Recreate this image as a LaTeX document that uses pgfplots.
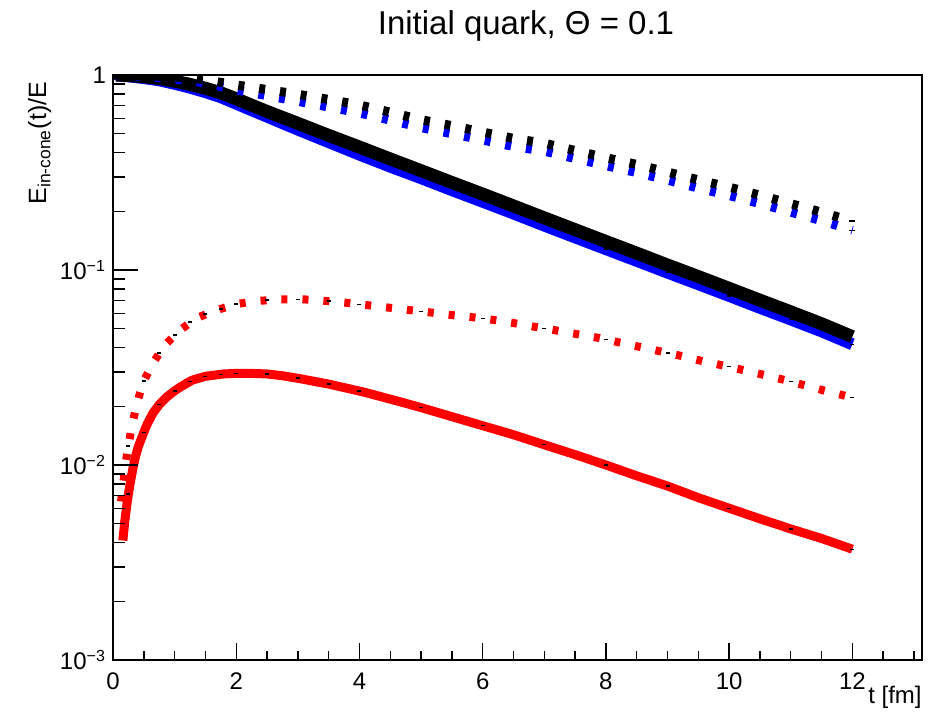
\documentclass[border=0pt]{standalone}
\usepackage{fontspec}
\setmainfont{Liberation Sans}
\usepackage{pgfplots}
\pgfplotsset{compat=1.18}
\usepackage{pgfplotstable}

\pgfplotstableread{
t v
0.05 1.0
0.25 0.995
0.5 0.98
0.75 0.96
1.0 0.93
1.25 0.895
1.5 0.855
1.75 0.81
2.0 0.755
2.25 0.70
2.5 0.65
3.0 0.565
3.5 0.49
4.0 0.427
4.5 0.371
5.0 0.323
5.5 0.281
6.0 0.245
6.5 0.213
7.0 0.185
7.5 0.161
8.0 0.140
8.5 0.122
9.0 0.106
9.5 0.0925
10.0 0.0805
10.5 0.070
11.0 0.061
11.5 0.053
12.0 0.0455
}\blacksolid

\pgfplotstableread{
t v
0.05 0.995
0.25 0.985
0.5 0.965
0.75 0.94
1.0 0.902
1.25 0.862
1.5 0.817
1.75 0.77
2.0 0.713
2.25 0.66
2.5 0.612
3.0 0.525
3.5 0.453
4.0 0.391
4.5 0.339
5.0 0.296
5.5 0.257
6.0 0.224
6.5 0.195
7.0 0.169
7.5 0.147
8.0 0.128
8.5 0.1115
9.0 0.097
9.5 0.0846
10.0 0.0737
10.5 0.064
11.0 0.0558
11.5 0.0485
12.0 0.0416
}\bluesolid

\pgfplotstableread{
t v
0.0 1.0
0.5 0.993
1.0 0.978
1.5 0.945
2.0 0.89
2.5 0.842
3.0 0.797
3.5 0.75
4.0 0.702
4.5 0.645
5.0 0.590
5.5 0.55
6.0 0.51
6.5 0.473
7.0 0.447
7.5 0.41
8.0 0.377
8.5 0.348
9.0 0.318
9.5 0.29
10.0 0.266
10.5 0.242
11.0 0.219
11.5 0.198
12.0 0.178
}\blackdotted

\pgfplotstableread{
t v
0.0 1.0
0.5 0.985
1.0 0.953
1.5 0.912
2.0 0.837
2.5 0.784
3.0 0.733
3.5 0.686
4.0 0.639
4.5 0.587
5.0 0.537
5.5 0.5
6.0 0.464
6.5 0.430
7.0 0.407
7.5 0.373
8.0 0.343
8.5 0.316
9.0 0.289
9.5 0.263
10.0 0.241
10.5 0.219
11.0 0.198
11.5 0.179
12.0 0.160
}\bluedotted

\pgfplotstableread{
t v
0.16 0.0041
0.19 0.0051
0.22 0.0061
0.25 0.0071
0.28 0.0081
0.32 0.0095
0.36 0.0109
0.41 0.0124
0.47 0.0139
0.55 0.0161
0.65 0.0185
0.75 0.0204
0.87 0.0223
1.0 0.0240
1.1 0.0252
1.28 0.0272
1.5 0.0285
1.79 0.0293
2.0 0.0295
2.25 0.0295
2.5 0.0293
2.75 0.0287
3.04 0.0277
3.5 0.0260
4.06 0.0237
4.66 0.0211
5.0 0.0197
5.5 0.0177
6.0 0.0159
6.5 0.0143
7.0 0.0127
7.5 0.0113
8.0 0.0100
8.5 0.0088
9.0 0.0078
9.5 0.0068
10.0 0.0060
10.5 0.0053
11.0 0.0047
11.5 0.0042
12.0 0.0037
}\redsolid

\pgfplotstableread{
t v
0.13 0.0065
0.16 0.0077
0.2 0.0100
0.25 0.0125
0.3 0.0155
0.39 0.0208
0.49 0.0266
0.65 0.0334
0.84 0.0412
1.09 0.0492
1.36 0.0568
1.69 0.0624
2.01 0.067
2.36 0.0694
2.71 0.0708
3.07 0.0708
3.41 0.0696
3.77 0.068
4.12 0.0661
4.46 0.0642
4.79 0.0624
5.13 0.0607
5.49 0.0588
5.83 0.0573
6.17 0.0555
6.51 0.0534
6.85 0.0511
7.19 0.0490
7.53 0.0469
7.89 0.0448
8.23 0.0424
8.57 0.0402
8.91 0.0381
9.25 0.0361
9.58 0.0340
9.92 0.0323
10.26 0.0305
10.6 0.0288
10.94 0.0271
11.27 0.0254
11.6 0.0238
11.95 0.0224
12.0 0.0222
}\reddotted

\pgfplotstableread{
t v
0.25 0.0071
0.5 0.0147
0.75 0.0204
1.0 0.0240
1.25 0.0269
1.5 0.0285
1.75 0.0292
2.0 0.0295
2.5 0.0293
3.0 0.0279
3.5 0.0260
4.0 0.0240
5 0.0197
6 0.0159
7 0.0127
8 0.0100
9 0.0078
10 0.0060
11 0.0047
12 0.0037
}\redsolidmarks

\pgfplotstableread{
t v
0.25 0.0125
0.5 0.027
0.75 0.0375
1.0 0.0465
1.25 0.054
1.5 0.0595
1.75 0.0632
2.0 0.0668
2.5 0.0701
3.0 0.0708
3.5 0.0692
4.0 0.0667
5 0.0614
6 0.0564
7 0.0502
8 0.0440
9 0.0376
10 0.0319
11 0.0268
12 0.0222
}\reddottedmarks

\pgfplotstableread{
t v
8 0.128
9 0.097
10 0.0737
11 0.0558
12 0.0416
}\bluesolidmarks

\pgfplotstableread{
t v
12 0.178
12 0.160
}\dottedendmarks

\begin{document}
\begin{tikzpicture}
\useasboundingbox (0,0) rectangle (469pt,358.5pt);
\begin{axis}[
  at={(56.5pt,28.5pt)}, anchor=south west, scale only axis,
  width=404.5pt, height=292.5pt,
  xmin=0, xmax=13.13, ymin=1e-3, ymax=1, ymode=log,
  xtick={0,2,4,6,8,10,12},
  xticklabels={0,2,4,6,8,10,12},
  minor xtick={0.5,1,...,13},
  xtick pos=bottom,
  ytick=\empty, yminorticks=false,
  major tick length=8.75pt, minor tick length=4.5pt,
  tick style={black, line width=0.7pt},
  axis line style={line width=0.8pt},
  tick label style={font=\fontsize{12}{14}\selectfont},
  xticklabel style={yshift=-3pt},
  clip=true,
]
\addplot[blue, line width=6pt, line join=round] table[x=t,y=v] {\bluesolid};
\addplot[black, line width=6.5pt, line join=round] table[x=t,y=v] {\blacksolid};
\addplot[blue, line width=4.5pt, dash pattern=on 3pt off 7.5pt] table[x=t,y=v] {\bluedotted};
\addplot[black, line width=4.5pt, dash pattern=on 3pt off 7.5pt] table[x=t,y=v] {\blackdotted};
\addplot[red, line width=4.5pt, line join=round] table[x=t,y=v] {\redsolid};
\addplot[red, line width=4pt, dash pattern=on 3pt off 7.5pt] table[x=t,y=v] {\reddotted};
\addplot[only marks, mark=-, mark size=1pt, mark options={black, line width=0.7pt}] table[x=t,y=v] {\redsolidmarks};
\addplot[only marks, mark=-, mark size=1pt, mark options={black, line width=0.7pt}] table[x=t,y=v] {\reddottedmarks};
\addplot[only marks, mark=-, mark size=1pt, mark options={black, line width=0.7pt}] table[x=t,y=v] {\bluesolidmarks};
\addplot[only marks, mark=-, mark size=1.5pt, mark options={black, line width=0.7pt}] table[x=t,y=v] {\dottedendmarks};
\end{axis}
\begin{axis}[
  at={(56.5pt,28.5pt)}, anchor=south west, scale only axis,
  width=404.5pt, height=292.5pt,
  xmin=0, xmax=13.13, ymin=1e-3, ymax=1, ymode=log,
  axis x line=none, axis y line*=left,
  xtick=\empty,
  ytick={1e-3,1e-2,1e-1,1},
  yticklabels={10\textsuperscript{−3},10\textsuperscript{−2},10\textsuperscript{−1},1},
  minor ytick={2e-3,3e-3,4e-3,5e-3,6e-3,7e-3,8e-3,9e-3,2e-2,3e-2,4e-2,5e-2,6e-2,7e-2,8e-2,9e-2,2e-1,3e-1,4e-1,5e-1,6e-1,7e-1,8e-1,9e-1},
  major tick length=12.5pt, minor tick length=6pt,
  tick style={black, line width=0.7pt},
  axis line style={line width=0.8pt, -},
  tick label style={font=\fontsize{12}{14}\selectfont},
]
\addplot[draw=none] coordinates {(1,0.5)};
\end{axis}
\node[anchor=base, font=\fontsize{16.5}{19}\selectfont] at (263pt,341pt) {Initial quark, Θ = 0.1};
\node[anchor=base east, rotate=90, font=\fontsize{12.5}{14}\selectfont] at (23pt,321pt) {E\textsubscript{in-cone}(t)/E};
\node[anchor=base east, inner sep=0pt, font=\fontsize{12}{14}\selectfont] at (461pt,6.5pt) {t [fm]};
\end{tikzpicture}
\end{document}
